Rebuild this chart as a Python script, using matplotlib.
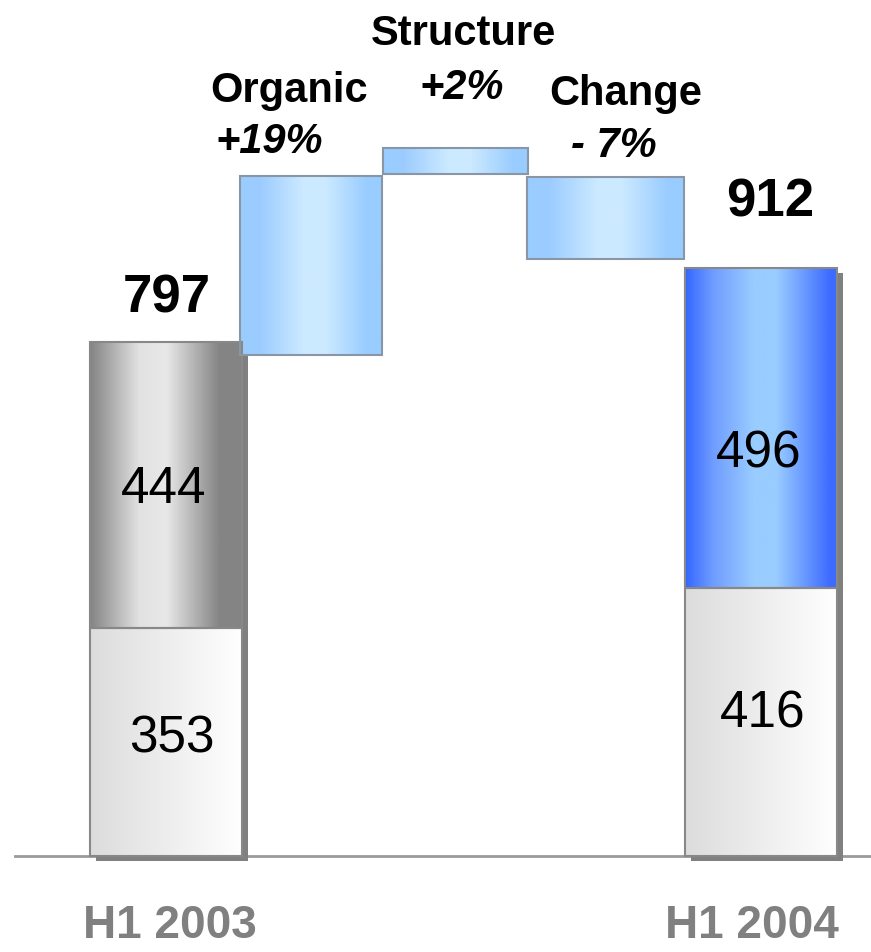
import numpy as np
import matplotlib
matplotlib.use('Agg')
import matplotlib.pyplot as plt
from matplotlib.colors import LinearSegmentedColormap

# Data
periods = ['H1 2003', 'H1 2004']
bottom_part = [353, 416]
top_part = [444, 496]
totals = [797, 912]

steps = ['Organic', 'Structure', 'Change']
step_pct = ['+19%', '+2%', '- 7%']
# floating bars, levels as drawn on the chart
step_low = [777, 1057, 926]
step_high = [1054, 1098, 1053]

plt.rcParams['font.family'] = ['Liberation Sans', 'DejaVu Sans']

# colour ramps across bar width
grey_dark = LinearSegmentedColormap.from_list('gd', [(0, '#848484'), (0.32, '#e2e2e2'), (0.5, '#e8e8e8'),
                                                     (0.85, '#848484'), (1, '#848484')])
grey_light = LinearSegmentedColormap.from_list('gl', [(0, '#dcdcdc'), (1, '#ffffff')])
blue_dark = LinearSegmentedColormap.from_list('bd', [(0, '#3366ff'), (0.18, '#6f9cff'), (0.45, '#99ccff'),
                                                     (0.6, '#99ccff'), (0.95, '#3d6bff'), (1, '#3d6bff')])
blue_light = LinearSegmentedColormap.from_list('bl', [(0, '#99ccff'), (0.15, '#9dcdff'), (0.45, '#cceaff'),
                                                      (0.6, '#cceaff'), (0.9, '#99ccff'), (1, '#99ccff')])

fig = plt.figure(figsize=(8.71, 9.52), dpi=100)
ax = fig.add_axes([0, 0, 1, 1])
px = 0.645  # pixels per value unit

bar_x = [166, 761]
bar_w = 152
step_x = [311, 455, 605]
step_w = [142, 145, 157]


def grad_rect(x, w, y0, y1, cmap, edge='#888888'):
    img = np.linspace(0, 1, 256).reshape(1, -1)
    ax.imshow(img, cmap=cmap, extent=[x - w / 2, x + w / 2, y0, y1], aspect='auto',
              interpolation='bilinear', zorder=2)
    ax.bar(x, y1 - y0, w, bottom=y0, fill=False, edgecolor=edge, linewidth=1.5, zorder=3)


# baseline
ax.plot([15, 871], [0, 0], color='#9a9a9a', lw=2, zorder=0.5)

top_maps = [grey_dark, blue_dark]
for i in range(2):
    # shadow
    ax.bar(bar_x[i] + 6, totals[i], bar_w, bottom=-8, color='#808080', zorder=1)
    grad_rect(bar_x[i], bar_w, 0, bottom_part[i], grey_light)
    grad_rect(bar_x[i], bar_w, bottom_part[i], bottom_part[i] + top_part[i], top_maps[i])

# floating bars
for i in range(3):
    grad_rect(step_x[i], step_w[i], step_low[i], step_high[i], blue_light, edge='#8a96a6')

# segment labels
lab_dx = [[6, -2], [2, -2]]
lab_dy = [[12, 0], [20, -33]]
for i in range(2):
    ax.text(bar_x[i] + lab_dx[i][0], bottom_part[i] / 2 - 28 + lab_dy[i][0], str(bottom_part[i]),
            ha='center', va='baseline', fontsize=37, zorder=4)
    ax.text(bar_x[i] + lab_dx[i][1], bottom_part[i] + top_part[i] / 2 - 28 + lab_dy[i][1], str(top_part[i]),
            ha='center', va='baseline', fontsize=37, zorder=4)

# totals
tot_dx = [1, 9]
tot_dy = [46, 79]
for i in range(2):
    ax.text(bar_x[i] + tot_dx[i], totals[i] + tot_dy[i], str(totals[i]), ha='center', va='baseline',
            fontsize=38, fontweight='bold')

# step headers
name_dx = [-22, 8, 21]
name_dy = [115, 160, 111]
pct_dx = [-42, 7, 9]
pct_dy = [36, 76, 31]
for i in range(3):
    ax.text(step_x[i] + name_dx[i], step_high[i] + name_dy[i], steps[i], ha='center', va='baseline',
            fontsize=30, fontweight='bold')
    ax.text(step_x[i] + pct_dx[i], step_high[i] + pct_dy[i], step_pct[i], ha='center', va='baseline',
            fontsize=30, fontweight='bold', style='italic')

# period labels
per_dx = [4, -9]
for i in range(2):
    ax.text(bar_x[i] + per_dx[i], -127, periods[i], ha='center', va='baseline', fontsize=33,
            fontweight='bold', color='#808080')

ax.set_xlim(0, 871)
ax.set_ylim(-96 / px, 856 / px)
ax.axis('off')

fig.savefig('out.png', dpi=100)
